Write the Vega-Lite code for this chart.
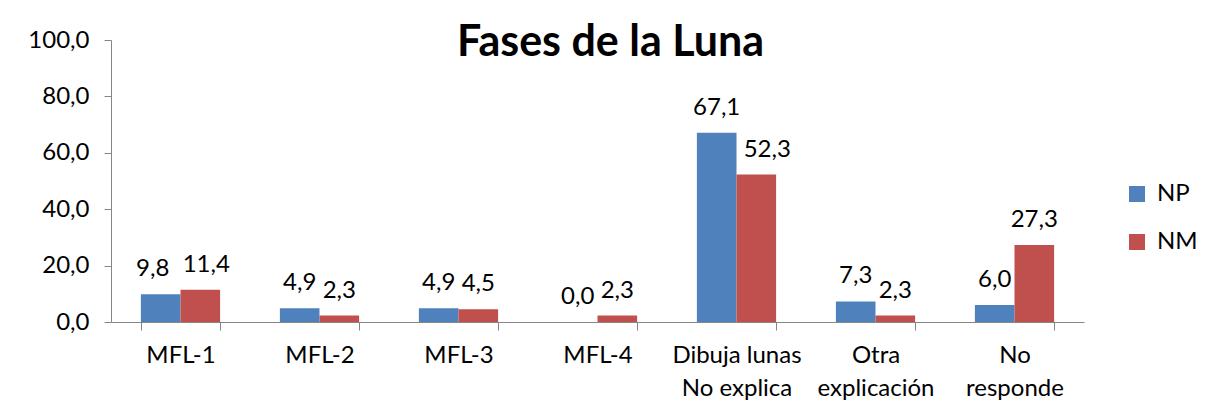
{
  "$schema": "https://vega.github.io/schema/vega-lite/v6.json",
  "width": 973,
  "height": 282,
  "autosize": {"type": "none"},
  "padding": {"left": 111, "top": 40, "right": 126, "bottom": 94},
  "background": "white",
  "config": {
    "locale": {"number": {"decimal": ",", "thousands": ".", "grouping": [3], "currency": ["", " €"]}},
    "view": {"stroke": null},
    "font": "Lato"
  },
  "title": {
    "text": "Fases de la Luna",
    "font": "Lato",
    "fontSize": 43,
    "fontWeight": "bold",
    "color": "black",
    "anchor": "middle",
    "frame": "group",
    "offset": -71,
    "baseline": "alphabetic",
    "dx": 13
  },
  "data": {
    "values": [
      {"cat": "MFL-1", "serie": "NP", "valor": 9.8},
      {"cat": "MFL-1", "serie": "NM", "valor": 11.4},
      {"cat": "MFL-2", "serie": "NP", "valor": 4.9},
      {"cat": "MFL-2", "serie": "NM", "valor": 2.3},
      {"cat": "MFL-3", "serie": "NP", "valor": 4.9},
      {"cat": "MFL-3", "serie": "NM", "valor": 4.5},
      {"cat": "MFL-4", "serie": "NP", "valor": 0.0},
      {"cat": "MFL-4", "serie": "NM", "valor": 2.3},
      {"cat": "Dibuja lunas|No explica", "serie": "NP", "valor": 67.1},
      {"cat": "Dibuja lunas|No explica", "serie": "NM", "valor": 52.3},
      {"cat": "Otra|explicación", "serie": "NP", "valor": 7.3},
      {"cat": "Otra|explicación", "serie": "NM", "valor": 2.3},
      {"cat": "No|responde", "serie": "NP", "valor": 6.0},
      {"cat": "No|responde", "serie": "NM", "valor": 27.3}
    ]
  },
  "encoding": {
    "x": {
      "field": "cat",
      "type": "nominal",
      "sort": null,
      "scale": {"paddingInner": 0.43, "paddingOuter": 0.215},
      "axis": {
        "title": null,
        "labelAngle": 0,
        "labelFont": "Lato",
        "labelFontSize": 24,
        "labelColor": "black",
        "labelExpr": "split(datum.label, '|')",
        "labelLineHeight": 33,
        "labelBaseline": "top",
        "labelPadding": 13,
        "tickBand": "extent",
        "tickSize": 8,
        "tickColor": "#868686",
        "domainColor": "#868686",
        "grid": false
      }
    },
    "xOffset": {"field": "serie", "sort": ["NP", "NM"], "scale": {"paddingInner": 0}},
    "y": {
      "field": "valor",
      "type": "quantitative",
      "scale": {"domain": [0, 100]},
      "axis": {
        "title": null,
        "values": [0, 20, 40, 60, 80, 100],
        "format": ".1f",
        "grid": false,
        "labelFont": "Lato",
        "labelFontSize": 24,
        "labelColor": "black",
        "labelPadding": 15,
        "tickSize": 7,
        "tickColor": "#868686",
        "domainColor": "#868686"
      }
    }
  },
  "layer": [
    {
      "mark": {"type": "bar"},
      "encoding": {
        "color": {
          "field": "serie",
          "type": "nominal",
          "sort": ["NP", "NM"],
          "scale": {"domain": ["NP", "NM"], "range": ["#4F81BD", "#C0504D"]},
          "legend": {
            "title": null,
            "orient": "none",
            "legendX": 1014,
            "legendY": 142,
            "symbolType": "square",
            "symbolSize": 256,
            "symbolStrokeWidth": 0,
            "labelFont": "Lato",
            "labelFontSize": 24,
            "labelColor": "black",
            "labelOffset": 8,
            "rowPadding": 24
          }
        }
      }
    },
    {
      "mark": {
        "type": "text",
        "dy": -18,
        "dx": {"expr": "datum.cat == 'MFL-1' ? (datum.serie == 'NP' ? -8 : 6) : (datum.cat == 'Dibuja lunas|No explica' && datum.serie == 'NM' ? 11 : 0)"},
        "baseline": "alphabetic",
        "fontSize": 24,
        "font": "Lato",
        "color": "black"
      },
      "encoding": {"text": {"field": "valor", "type": "quantitative", "format": ".1f"}}
    }
  ]
}
